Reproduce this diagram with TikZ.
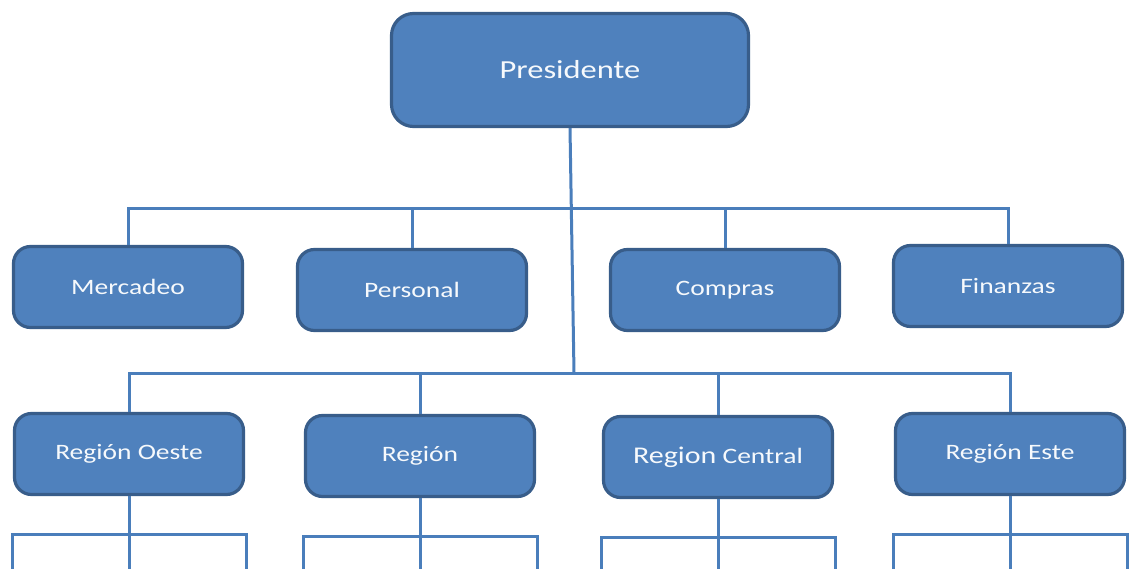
\documentclass[tikz,border=0pt]{standalone}
\usepackage{fontspec}
\setmainfont{Carlito}[FakeStretch=1.25]
\usepackage{tikz}

\definecolor{boxfill}{HTML}{4F81BD}
\definecolor{boxline}{HTML}{385D8A}
\definecolor{linkblue}{HTML}{4A7EBB}

\tikzset{
  unit/.style = {draw=boxline, line width=3.2pt, fill=boxfill, rounded corners=17pt,
    text=white!95!boxfill, font=\fontsize{22}{24}\selectfont,
    minimum width=229pt, minimum height=81pt, inner sep=0pt},
  link/.style = {draw=linkblue, line width=3pt},
}

\begin{document}
\begin{tikzpicture}[x=1pt, y=-1pt]
        \useasboundingbox (0,0) rectangle (1139,569);

        \node [unit, minimum width=357pt, minimum height=113pt, rounded corners=22pt,
          font=\fontsize{26}{28}\selectfont] (pres) at (570,70) {Presidente};

        \foreach \name/\x/\y/\txt in {merc/128/287/Mercadeo, pers/412/290/Personal,
            comp/725/290/Compras, fin/1008/286/Finanzas} {
          \node [unit] (\name) at (\x,\y) {\txt};
        }

        \foreach \name/\x/\y/\txt in {oeste/129/454/{Región Oeste}, reg/420/456/Región,
            cent/718/457/{{\fontsize{24}{26}\selectfont Region} Central}, este/1010/454/{Región Este}} {
          \node [unit] (\name) at (\x,\y) {\txt};
        }

        \coordinate (trunk1) at (572,209);
        \coordinate (trunk2) at (574,373);

        \draw [link] (pres.south) -- (trunk2);

        \foreach \name in {merc, pers, comp, fin} {
          \draw [link] (\name.north) |- (trunk1);
        }
        \foreach \name in {oeste, reg, cent, este} {
          \draw [link] (\name.north) |- (trunk2);
        }

        \foreach \name in {oeste, reg, cent, este} {
          \draw [link] (\name.south) -- ++(0,38) coordinate (\name-fork);
          \draw [link] (\name-fork) -- ++(0,40);
          \draw [link] ([xshift=-117pt]\name-fork) ++(0,40) -- ++(0,-40) -- ++(234,0) -- ++(0,40);
        }
\end{tikzpicture}
\end{document}
